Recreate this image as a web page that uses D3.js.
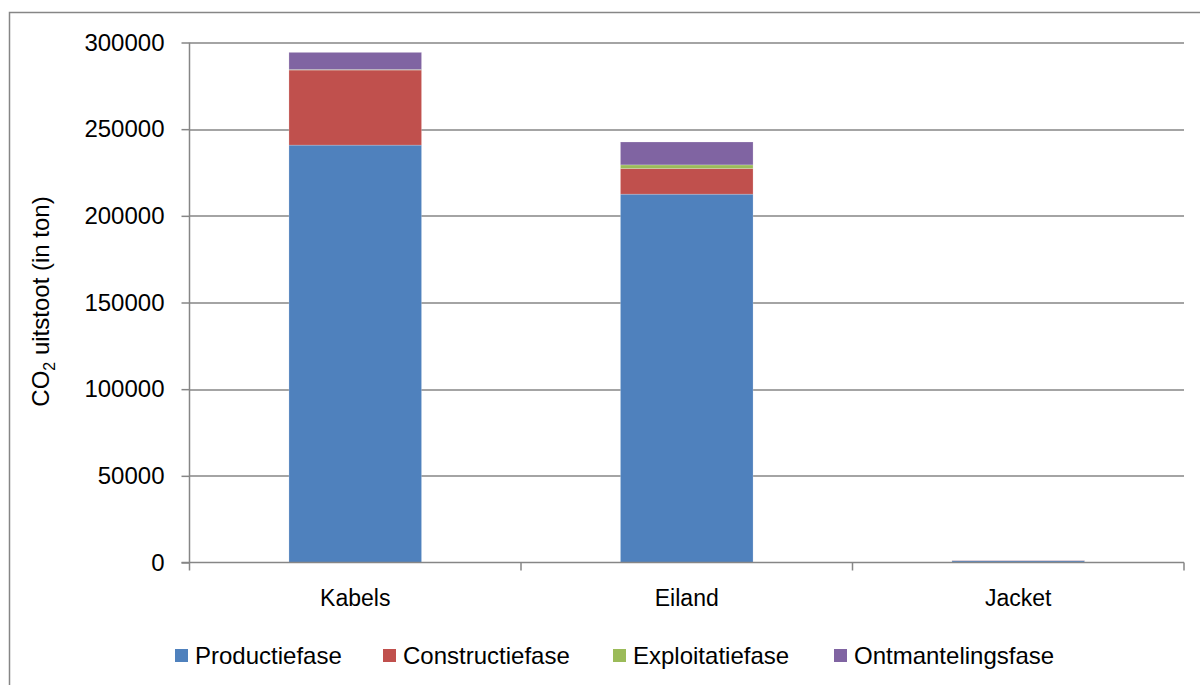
<!DOCTYPE html>
<html>
<head>
<meta charset="utf-8">
<script src="https://cdn.jsdelivr.net/npm/d3@7"></script>
<style>
  body { margin: 0; background: #fff; }
  text { font-family: "Liberation Sans", Arial, sans-serif; fill: #000; }
</style>
</head>
<body>
<div class="chart"></div>
<script>
var categories = [`Kabels`, `Eiland`, `Jacket`];
var seriesNames = [`Productiefase`, `Constructiefase`, `Exploitatiefase`, `Ontmantelingsfase`];
var productie = [240800, 212500, 1000];
var constructie = [43300, 14800, 150];
var exploitatie = [300, 2100, 20];
var ontmanteling = [9900, 13200, 100];
var yTicks = [0, 50000, 100000, 150000, 200000, 250000, 300000];
var colors = [`#4F81BD`, `#C0504D`, `#9BBB59`, `#8064A2`];

var fullWidth = 1200, fullHeight = 685;
var margin = {top: 42.5, left: 189.5, right: 16, bottom: 122.5};
var width = fullWidth - margin.left - margin.right;
var height = fullHeight - margin.top - margin.bottom;

var svg = d3.select(`.chart`)
    .append(`svg`)
    .attr(`width`, fullWidth)
    .attr(`height`, fullHeight);

// outer chart border
svg.append(`rect`)
    .attr(`x`, 9.5).attr(`y`, 12.5)
    .attr(`width`, fullWidth + 20).attr(`height`, fullHeight + 20)
    .style(`fill`, `none`).style(`stroke`, `#868686`).style(`stroke-width`, 1.5);

var g = svg.append(`g`)
    .attr(`transform`, `translate(${margin.left},${margin.top})`);

var table = categories.map((c, i) => ({
    cat: c,
    Productiefase: productie[i],
    Constructiefase: constructie[i],
    Exploitatiefase: exploitatie[i],
    Ontmantelingsfase: ontmanteling[i]
}));

var xScale = d3.scaleBand().domain(categories).range([0, width]).paddingInner(0.6).paddingOuter(0.3);
var xBand = d3.scaleBand().domain(categories).range([0, width]);
var yScale = d3.scaleLinear().domain([0, 300000]).range([height, 0]);

// gridlines
g.selectAll(`.grid`)
    .data(yTicks.filter(d => d > 0))
    .enter()
    .append(`line`)
    .attr(`x1`, 0).attr(`x2`, width)
    .attr(`y1`, d => Math.round(yScale(d)) + 0.5)
    .attr(`y2`, d => Math.round(yScale(d)) + 0.5)
    .style(`stroke`, `#868686`).style(`stroke-width`, 1.5);

var stack = d3.stack().keys(seriesNames);
var stacked = stack(table);

g.selectAll(`.layer`)
    .data(stacked)
    .enter()
    .append(`g`)
    .style(`fill`, (d, i) => colors[i])
    .selectAll(`rect`)
    .data(d => d)
    .enter()
    .append(`rect`)
    .attr(`x`, d => xScale(d.data.cat))
    .attr(`width`, xScale.bandwidth())
    .attr(`y`, d => yScale(d[1]))
    .attr(`height`, d => yScale(d[0]) - yScale(d[1]))
    .style(`stroke`, `#ffffff`).style(`stroke-opacity`, 0.25).style(`stroke-width`, 0.8);

// y axis
var yAxis = d3.axisLeft(yScale).tickValues(yTicks).tickSize(8).tickPadding(17).tickFormat(d3.format(`d`));
var yG = g.append(`g`).call(yAxis);
yG.select(`.domain`).attr(`d`, `M0,${height}V0`).style(`stroke`, `#868686`).style(`stroke-width`, 1.5);
yG.selectAll(`.tick line`).style(`stroke`, `#868686`).style(`stroke-width`, 1.5);
yG.selectAll(`.tick text`).style(`font-size`, `24px`).style(`font-family`, `"Liberation Sans", Arial, sans-serif`);

// x axis
var xG = g.append(`g`).attr(`transform`, `translate(0,${height})`);
xG.append(`line`).attr(`x1`, -8).attr(`x2`, width).style(`stroke`, `#868686`).style(`stroke-width`, 1.5);
xG.selectAll(`.xtick`)
    .data([0].concat(categories.map(c => xBand(c) + xBand.bandwidth())))
    .enter()
    .append(`line`)
    .attr(`x1`, d => d).attr(`x2`, d => d)
    .attr(`y1`, 0).attr(`y2`, 8)
    .style(`stroke`, `#868686`).style(`stroke-width`, 1.5);
xG.selectAll(`.xlabel`)
    .data(categories)
    .enter()
    .append(`text`)
    .attr(`x`, d => xBand(d) + xBand.bandwidth() / 2)
    .attr(`y`, 43)
    .attr(`text-anchor`, `middle`)
    .style(`font-size`, `23px`)
    .text(d => d);

// y axis title
var yTitle = svg.append(`text`)
    .attr(`transform`, `translate(49,${margin.top + height / 2 - 1}) rotate(-90)`)
    .attr(`text-anchor`, `middle`)
    .style(`font-size`, `24px`);
yTitle.append(`tspan`).text(`CO`);
yTitle.append(`tspan`).attr(`dy`, 6).style(`font-size`, `16px`).text(`2`);
yTitle.append(`tspan`).attr(`dy`, -6).text(` uitstoot (in ton)`);

// legend
var legendX = [175, 383, 613, 834];
var legend = svg.selectAll(`.legend`)
    .data(seriesNames)
    .enter()
    .append(`g`)
    .attr(`transform`, (d, i) => `translate(${legendX[i]},655)`);
legend.append(`rect`)
    .attr(`x`, 0).attr(`y`, -6).attr(`width`, 13).attr(`height`, 13)
    .style(`fill`, (d, i) => colors[i]);
legend.append(`text`)
    .attr(`x`, 20).attr(`y`, 9)
    .style(`font-size`, `24px`)
    .text(d => d);
</script>
</body>
</html>
